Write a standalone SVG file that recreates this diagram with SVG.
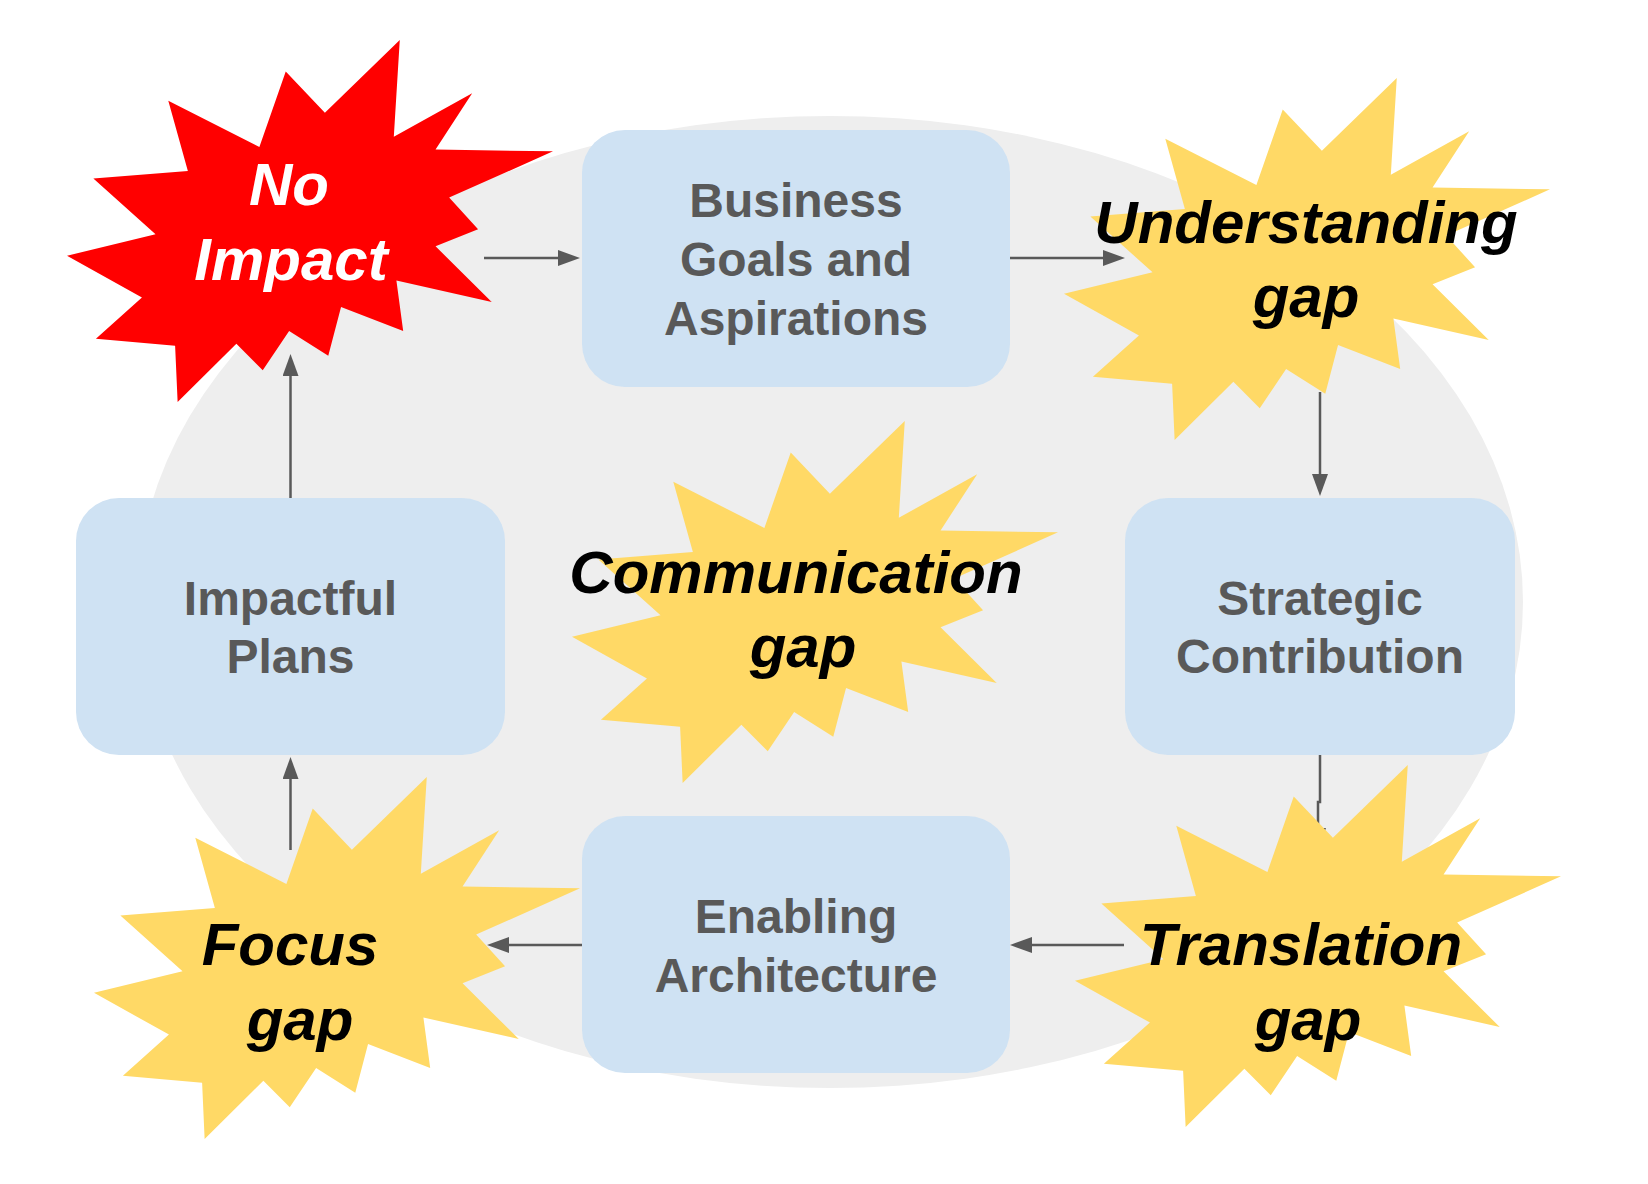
<svg xmlns="http://www.w3.org/2000/svg" xmlns:xlink="http://www.w3.org/1999/xlink" width="1648" height="1184" viewBox="0 0 1648 1184">
<style>
.box{fill:#cfe2f3}
.bt{font-family:"Liberation Sans",Arial,sans-serif;font-weight:bold;font-size:48px;fill:#595959;text-anchor:middle}
.st{font-family:"Liberation Sans",Arial,sans-serif;font-weight:bold;font-style:italic;font-size:60px;fill:#000000;text-anchor:middle}
.conn{fill:none;stroke:#595959;stroke-width:2.5}
.yel{fill:#ffd966}
.red{fill:#ff0000}
</style>
<defs>
<path id="seal" d="M11462 4342 L14790 0 L14525 5777 L18007 3172 L16380 6532 L21600 6645 L16985 9402 L18270 11290 L16380 12310 L18877 15632 L14640 14350 L14942 17370 L12180 15935 L11612 18842 L9872 17370 L8700 19712 L7527 18125 L4917 21600 L4805 18240 L1285 17825 L3330 15370 L0 12877 L3935 11592 L1172 8270 L5372 7817 L4502 3625 L8550 6382 L9722 1887 Z"/>
<marker id="ah" viewBox="0 0 22 16" refX="0" refY="8" markerWidth="22" markerHeight="16" markerUnits="userSpaceOnUse" orient="auto">
<path d="M0 0 L22 8 L0 16 Z" fill="#595959"/>
</marker>
</defs>
<rect width="1648" height="1184" fill="#ffffff"/>
<g id="background">
<ellipse cx="830" cy="602" rx="693" ry="486" fill="#eeeeee"/>
</g>
<g id="business">
<rect class="box" x="582" y="130" width="428" height="257" rx="43"/>
<text class="bt" x="796" y="217">Business</text>
<text class="bt" x="796" y="276">Goals and</text>
<text class="bt" x="796" y="335">Aspirations</text>
</g>
<g id="impactful">
<rect class="box" x="76" y="498" width="429" height="257" rx="43"/>
<text class="bt" x="290.5" y="615">Impactful</text>
<text class="bt" x="290.5" y="673">Plans</text>
</g>
<g id="strategic">
<rect class="box" x="1125" y="498" width="390" height="257" rx="43"/>
<text class="bt" x="1320" y="615">Strategic</text>
<text class="bt" x="1320" y="673">Contribution</text>
</g>
<g id="enabling">
<rect class="box" x="582" y="816" width="428" height="257" rx="43"/>
<text class="bt" x="796" y="933">Enabling</text>
<text class="bt" x="796" y="992">Architecture</text>
</g>
<g id="connectors">
<path class="conn" d="M290.5 498 V376" marker-end="url(#ah)"/>
<path class="conn" d="M484 258 H558" marker-end="url(#ah)"/>
<path class="conn" d="M1010 258 H1103" marker-end="url(#ah)"/>
<path class="conn" d="M1320 392 V474" marker-end="url(#ah)"/>
<path class="conn" d="M1320 755 V802 H1318 V828" marker-end="url(#ah)"/>
<path class="conn" d="M1124 945 H1032" marker-end="url(#ah)"/>
<path class="conn" d="M582 945 H509" marker-end="url(#ah)"/>
<path class="conn" d="M290.5 850 V779" marker-end="url(#ah)"/>
</g>
<g id="no-impact">
<use xlink:href="#seal" class="red" transform="translate(67,40) scale(0.0225,0.016759)"/>
<text class="st" x="289" y="205" fill="#ffffff" style="fill:#ffffff">No</text>
<text class="st" x="291" y="280" style="fill:#ffffff">Impact</text>
</g>
<g id="understanding-gap">
<use xlink:href="#seal" class="yel" transform="translate(1064,78) scale(0.0225,0.016759)"/>
<text class="st" x="1306" y="243">Understanding</text>
<text class="st" x="1306" y="317">gap</text>
</g>
<g id="communication-gap">
<use xlink:href="#seal" class="yel" transform="translate(572,421) scale(0.0225,0.016759)"/>
<text class="st" x="796" y="593">Communication</text>
<text class="st" x="803" y="667">gap</text>
</g>
<g id="focus-gap">
<use xlink:href="#seal" class="yel" transform="translate(94,777) scale(0.0225,0.016759)"/>
<text class="st" x="290" y="965">Focus</text>
<text class="st" x="300" y="1040">gap</text>
</g>
<g id="translation-gap">
<use xlink:href="#seal" class="yel" transform="translate(1075,765) scale(0.0225,0.016759)"/>
<text class="st" x="1301" y="965">Translation</text>
<text class="st" x="1308" y="1040">gap</text>
</g>
</svg>
